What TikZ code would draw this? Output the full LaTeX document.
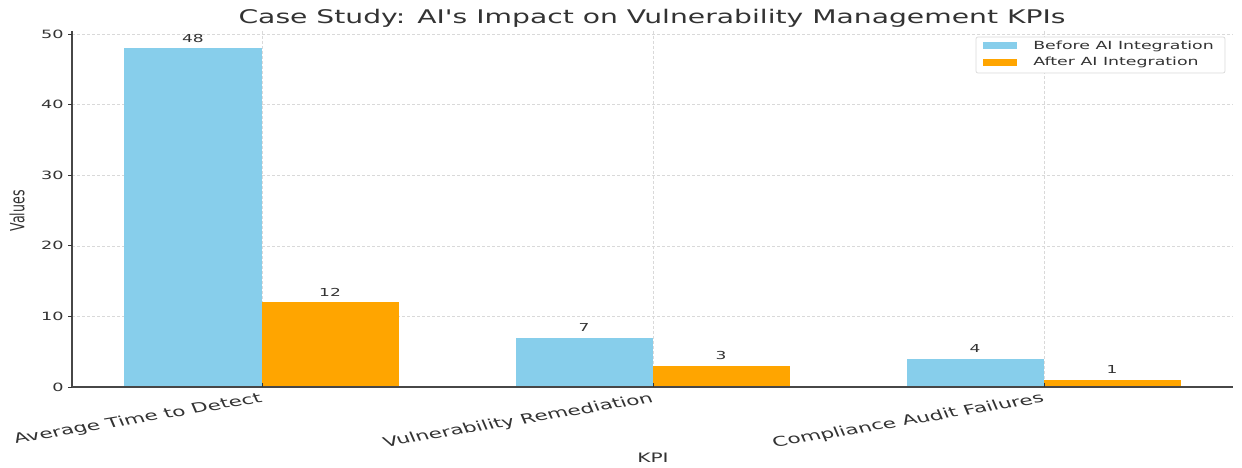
\documentclass[tikz,border=0pt]{standalone}
\usepackage{fontspec}
\setmainfont{DejaVu Sans}[Ligatures=TeXOff]
\definecolor{skyb}{HTML}{87CEEB}
\definecolor{orng}{HTML}{FFA500}
\definecolor{txt}{HTML}{333333}
\definecolor{gridc}{HTML}{D9D9D9}
\begin{document}
\begin{tikzpicture}[x=1pt,y=-1pt,
  lbl/.style={text=txt, inner sep=0pt, xscale=1.55},
  grid line/.style={draw=gridc, dashed, dash pattern=on 3pt off 2pt, line width=0.6pt},
  spine/.style={draw=txt!90, line width=1.2pt},
  beforebar/.style={fill=skyb},
  afterbar/.style={fill=orng}]
\useasboundingbox (0,0) rectangle (1242,468);
% grid
\foreach \v in {0,10,...,50}
  \draw[grid line] (72,{387-7.06*\v}) -- (1233,{387-7.06*\v});
\foreach \cx in {262,653,1044}
  \draw[grid line] (\cx,31) -- (\cx,387);
% bars
\fill[beforebar] (124,387) rectangle (262,{387-7.06*48});
\fill[afterbar]  (262,387) rectangle (399,{387-7.06*12});
\fill[beforebar] (516,387) rectangle (653,{387-7.06*7});
\fill[afterbar]  (653,387) rectangle (790,{387-7.06*3});
\fill[beforebar] (907,387) rectangle (1044,{387-7.06*4});
\fill[afterbar]  (1044,387) rectangle (1181,{387-7.06*1});
% value labels
\node[lbl, font=\fontsize{11}{13}\selectfont] (v1) at (193,{377-7.06*48}) {48};
\node[lbl, font=\fontsize{11}{13}\selectfont] (v2) at (330,{377-7.06*12}) {12};
\node[lbl, font=\fontsize{11}{13}\selectfont] (v3) at (584,{377-7.06*7}) {7};
\node[lbl, font=\fontsize{11}{13}\selectfont] (v4) at (721,{377-7.06*3}) {3};
\node[lbl, font=\fontsize{11}{13}\selectfont] (v5) at (975,{377-7.06*4}) {4};
\node[lbl, font=\fontsize{11}{13}\selectfont] (v6) at (1112,{377-7.06*1}) {1};
% spines
\draw[spine] (72,31) -- (72,387.6);
\draw[spine] (71.4,387) -- (1233,387);
% y ticks
\foreach \v in {0,10,...,50} {
  \draw[txt, line width=0.9pt] (68,{387-7.06*\v}) -- (72,{387-7.06*\v});
  \node[lbl, anchor=east, font=\fontsize{11.4}{13}\selectfont] (yt\v) at (64,{387-7.06*\v}) {\v};
}
% x ticks
\foreach \cx/\nm/\t in {262/a/Average Time to Detect,653/b/Vulnerability Remediation,1044/c/Compliance Audit Failures} {
  \draw[txt, line width=0.9pt] (\cx,383) -- (\cx,387);
  \node[text=txt, inner sep=0pt, anchor=north east, xscale=1.6, rotate=15, font=\fontsize{13.5}{15}\selectfont] (xt\nm) at (\cx-3,392) {\t};
}
% axis labels
\node[lbl, font=\fontsize{13}{15}\selectfont] (xl) at (653,458) {KPI};
\node[text=txt, inner sep=0pt, xscale=1.55, rotate=90, font=\fontsize{12.6}{14}\selectfont] (yl) at (17,211) {Values};
% title
\node[text=txt, inner sep=0pt, xscale=1.5, font=\fontsize{18.8}{22}\selectfont] (title) at (652,18) {Case Study: AI's Impact on Vulnerability Management KPIs};
% legend
\draw[draw=gridc, fill=white, rounded corners=2pt, line width=0.7pt] (976,37) rectangle (1225,73);
\fill[skyb] (983,42.5) rectangle (1017,49.5);
\fill[orng] (983,59) rectangle (1017,66);
\node[lbl, anchor=west, font=\fontsize{11.2}{13}\selectfont] (lg1) at (1033,46) {Before AI Integration};
\node[lbl, anchor=west, font=\fontsize{11.2}{13}\selectfont] (lg2) at (1033,62.5) {After AI Integration};
\end{tikzpicture}
\end{document}
